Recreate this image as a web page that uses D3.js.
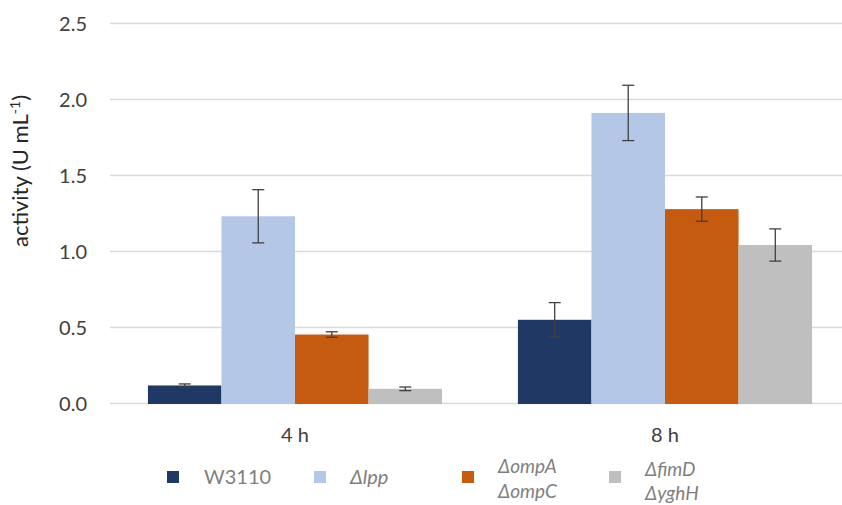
<!DOCTYPE html>
<html><head><meta charset="utf-8">
<script src="https://cdn.jsdelivr.net/npm/d3@7"></script>
<style>body{margin:0;background:#fff}svg{display:block}text{font-family:Lato,"Open Sans",sans-serif}</style>
</head><body><svg id="c" width="842" height="505"></svg>
<script>
const categories = ["4 h", "8 h"];
const seriesNames = ["W3110", "\u0394lpp", "\u0394ompA \u0394ompC", "\u0394fimD \u0394yghH"];
const legendLines = [["W3110"], ["\u0394lpp"], ["\u0394ompA", "\u0394ompC"], ["\u0394fimD", "\u0394yghH"]];
const legendItalic = [false, true, true, true];
const values = [[0.122, 0.554], [1.235, 1.915], [0.457, 1.282], [0.100, 1.046]];
const errors = [[0.010, 0.113], [0.175, 0.182], [0.018, 0.080], [0.012, 0.106]];
const colors = ["#203864", "#b4c7e7", "#c55a11", "#bfbfbf"];
const yTicks = [0, 0.5, 1.0, 1.5, 2.0, 2.5];

const svg = d3.select("#c");
const L = 110, R = 850, T = 24, B = 404;
const y = d3.scaleLinear().domain([0, 2.5]).range([B, T]);
const x0 = d3.scaleBand().domain(categories).range([L, R]).paddingInner(0.205).paddingOuter(0.1025);
const x1 = d3.scaleBand().domain(d3.range(4)).range([0, x0.bandwidth()]);

// gridlines
svg.append("g").selectAll("line").data(yTicks).join("line")
  .attr("x1", L).attr("x2", R).attr("y1", d => Math.round(y(d)) - 0.5).attr("y2", d => Math.round(y(d)) - 0.5)
  .attr("stroke", "#d9d9d9").attr("stroke-width", 1.3);

// y axis labels
const yAxis = d3.axisLeft(y).tickValues(yTicks).tickFormat(d3.format(".1f")).tickSize(0).tickPadding(0);
const ya = svg.append("g").attr("transform", `translate(87,0)`).call(yAxis);
ya.select(".domain").remove();
ya.selectAll("text").attr("font-size", 20).attr("fill", "#404040").attr("font-family", "Lato,sans-serif");

// bars
const groups = svg.append("g").selectAll("g").data(categories).join("g")
  .attr("transform", d => `translate(${x0(d)},0)`);
groups.each(function(cat, ci) {
  const g = d3.select(this);
  for (let s = 0; s < 4; s++) {
    const v = values[s][ci], e = errors[s][ci];
    const bx = x1(s);
    g.append("rect").attr("x", bx).attr("width", x1.bandwidth())
      .attr("y", y(v)).attr("height", y(0) - y(v)).attr("fill", colors[s]);
    const cx = bx + x1.bandwidth() / 2;
    g.append("line").attr("x1", cx).attr("x2", cx).attr("y1", y(v + e)).attr("y2", y(v - e))
      .attr("stroke", "#404040").attr("stroke-width", 1.3);
    [v + e, v - e].forEach(t => g.append("line").attr("x1", cx - 6).attr("x2", cx + 6)
      .attr("y1", y(t)).attr("y2", y(t)).attr("stroke", "#404040").attr("stroke-width", 1.3));
  }
});

// x labels
svg.append("g").selectAll("text").data(categories).join("text")
  .attr("x", d => x0(d) + x0.bandwidth() / 2).attr("y", 442)
  .attr("text-anchor", "middle").attr("font-size", 20).attr("fill", "#404040").text(d => d);

// y title
svg.append("text").attr("transform", "translate(28,171) rotate(-90)")
  .attr("text-anchor", "middle").attr("font-size", 22).attr("fill", "#262626")
  .html('activity (U mL<tspan dy="-8" font-size="14">-1</tspan><tspan dy="8">)</tspan>');

// legend
const legX = [167, 314, 462, 609];
const lineBase = [[484], [484], [473, 498], [476, 500]];
const lg = svg.append("g");
seriesNames.forEach((n, i) => {
  lg.append("rect").attr("x", legX[i]).attr("y", 471).attr("width", 12).attr("height", 12).attr("fill", colors[i]);
  const lines = legendLines[i];
  const tx = legX[i] + (i === 0 ? 37 : 36);
  const t = lg.append("text").attr("fill", "#7f7f7f")
    .attr("font-size", lines.length > 1 ? 19 : 20)
    .attr("font-style", legendItalic[i] ? "italic" : "normal");
  lines.forEach((ln, k) => t.append("tspan").attr("x", tx).attr("y", lineBase[i][k]).text(ln));
});
</script></body></html>
